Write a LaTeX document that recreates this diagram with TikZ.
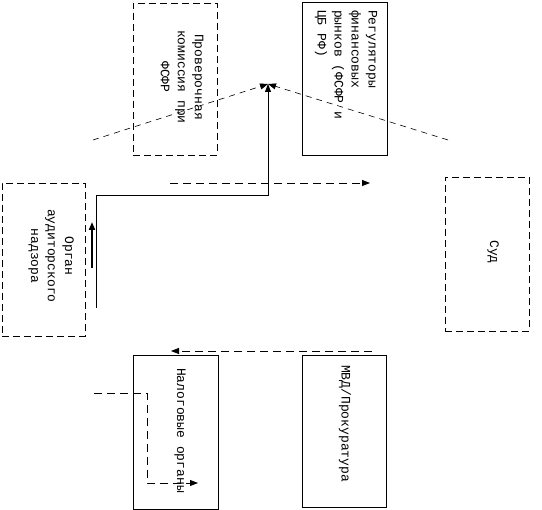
\documentclass[tikz,border=0pt]{standalone}
\usepackage{fontspec}
\newfontfamily\monofam{Liberation Mono}
\usetikzlibrary{arrows.meta}
\begin{document}
\begin{tikzpicture}[x=1pt,y=-1pt,
  boxs/.style={draw, line width=0.9pt, inner sep=0pt},
  dbox/.style={boxs, dash pattern=on 7pt off 4pt},
  lbl/.style={rotate=-90, font=\monofam\fontsize{13}{17}\selectfont, inner sep=0pt},
  conn/.style={line width=0.8pt},
  dconn/.style={conn, dash pattern=on 8pt off 5pt},
  diag/.style={line width=0.6pt, dash pattern=on 6pt off 5pt},
  tip/.style={-{Triangle[length=8pt,width=6pt]}}
]
\useasboundingbox (0,0) rectangle (542,510);
% boxes
\node[dbox, minimum width=84pt, minimum height=152pt] (prov) at (175,79) {};
\node[boxs, minimum width=85pt, minimum height=153pt] (reg) at (344.5,78.5) {};
\node[dbox, minimum width=83pt, minimum height=153pt] (audit) at (43.5,259.5) {};
\node[dbox, minimum width=84pt, minimum height=154pt] (sud) at (487,254) {};
\node[boxs, minimum width=85pt, minimum height=154pt] (nalog) at (175.5,432) {};
\node[boxs, minimum width=84pt, minimum height=152pt] (mvd) at (344,431) {};
% labels
\node[lbl, align=center] (tprov) at (182,77) {Проверочная\\комиссия при\\ФСФР};
\node[lbl, align=left, anchor=west] (treg) at (346,10) {Регуляторы\\финансовых\\рынков (ФСФР и\\ЦБ РФ)};
\node[lbl, align=center] (taudit) at (51,256) {Орган\\аудиторского\\надзора};
\node[lbl] (tsud) at (493,252) {Суд};
\node[lbl, anchor=west] (tnalog) at (180,368) {Налоговые органы};
\node[lbl, anchor=west] (tmvd) at (345,365) {МВД/Прокуратура};
% connectors
\coordinate (apex) at (268,84);
\coordinate (dl) at (93,140);
\coordinate (dr) at (448,140);
\draw[diag, tip] (dl) -- (apex);
\draw[diag, tip] (dr) -- (apex);
\coordinate (s0) at (96,308);
\coordinate (s1) at (268,195);
\draw[conn, tip] (s0) |- (s1) -- (apex);
\coordinate (k0) at (92,268);
\coordinate (k1) at (92,222);
\draw[line width=1.8pt, tip] (k0) -- (k1);
\coordinate (h0) at (170,183);
\coordinate (h1) at (370,183);
\draw[dconn, tip] (h0) -- (h1);
\coordinate (m0) at (372,351);
\coordinate (m1) at (171,351);
\draw[dconn, tip] (m0) -- (m1);
\coordinate (n0) at (94,393);
\coordinate (n1) at (147,483);
\coordinate (n2) at (198,483);
\draw[dconn, tip] (n0) -| (n1) -- (n2);
\end{tikzpicture}
\end{document}
